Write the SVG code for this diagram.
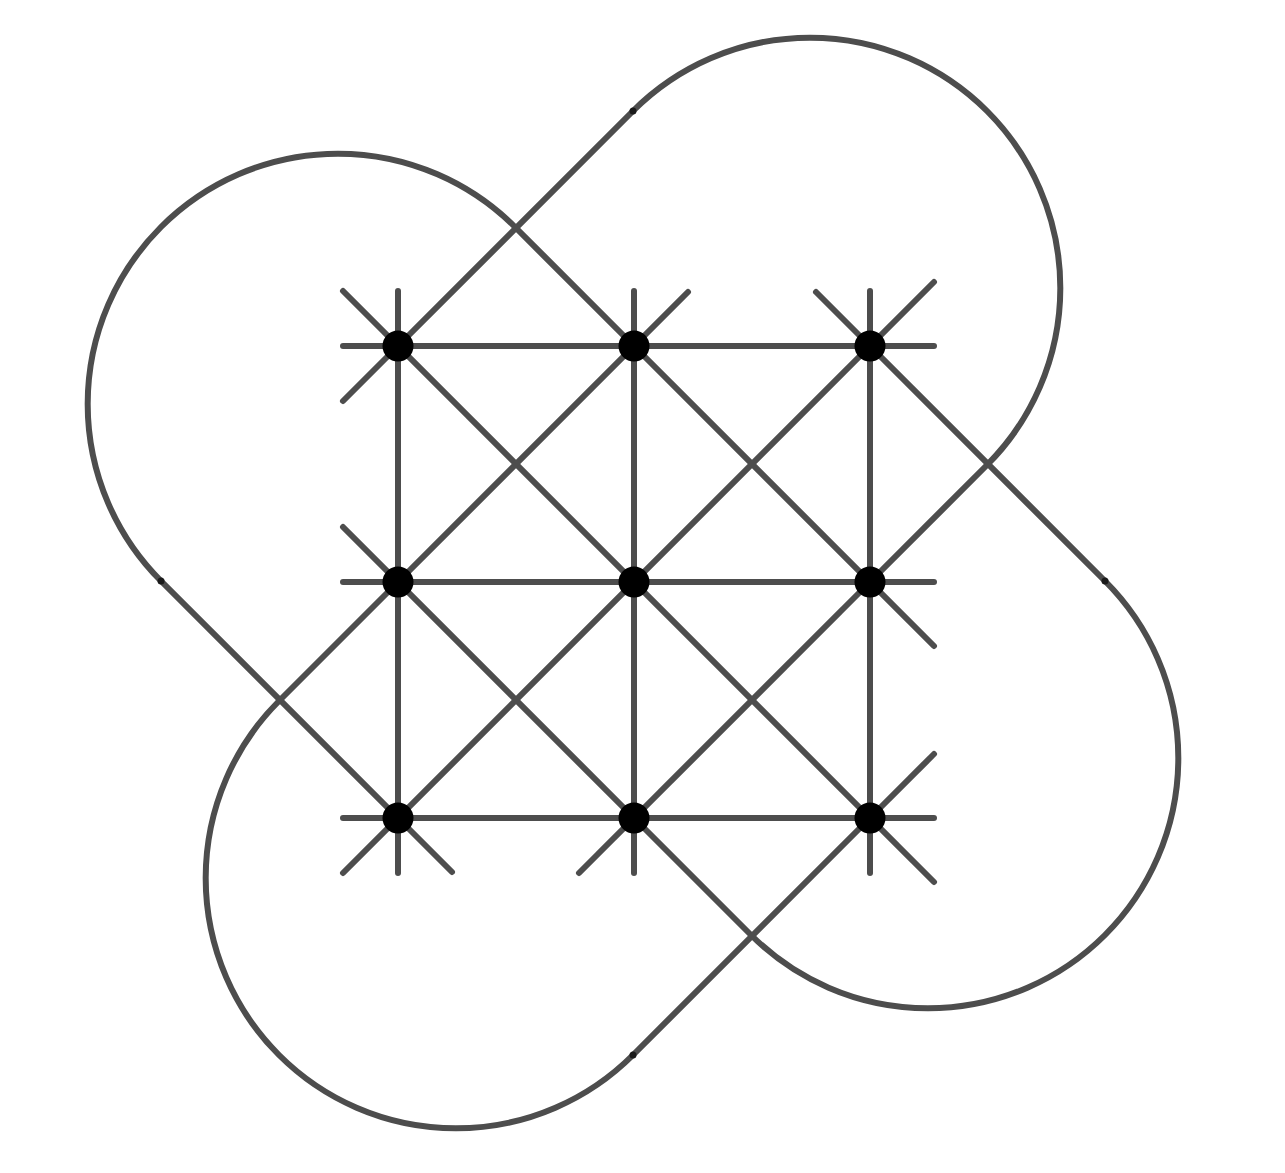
<svg xmlns="http://www.w3.org/2000/svg" width="1285" height="1173" viewBox="0 0 1285 1173">
<style>
.e{stroke:#4d4d4d;stroke-width:6;stroke-linecap:round;fill:none}
.n{fill:#000}
.j{fill:#1a1a1a}
</style>
<rect width="1285" height="1173" fill="#fff"/>
<g id="connectors">
<line class="e" x1="343" y1="346" x2="934" y2="346"/>
<line class="e" x1="343" y1="582" x2="934" y2="582"/>
<line class="e" x1="343" y1="818" x2="934" y2="818"/>
<line class="e" x1="398" y1="291" x2="398" y2="873"/>
<line class="e" x1="634" y1="291" x2="634" y2="873"/>
<line class="e" x1="870" y1="291" x2="870" y2="873"/>
<line class="e" x1="343" y1="291" x2="934" y2="882"/>
<line class="e" x1="634" y1="346" x2="934" y2="646"/>
<line class="e" x1="343" y1="527" x2="634" y2="818"/>
<line class="e" x1="816" y1="292" x2="870" y2="346"/>
<line class="e" x1="398" y1="818" x2="452" y2="872"/>
<line class="e" x1="343" y1="401" x2="398" y2="346"/>
<line class="e" x1="688" y1="292" x2="398" y2="582"/>
<line class="e" x1="934" y1="282" x2="343" y2="873"/>
<line class="e" x1="870" y1="582" x2="579" y2="873"/>
<line class="e" x1="934" y1="754" x2="870" y2="818"/>
<path class="e" d="M398 818 L161 581 A250.3 250.3 0 0 1 515 227 L634 346"/>
<path class="e" d="M398 346 L633 111 A250.3 250.3 0 0 1 987 465 L870 582"/>
<path class="e" d="M870 346 L1105 581 A250.3 250.3 0 0 1 751 935 L634 818"/>
<path class="e" d="M398 582 L279 701 A250.3 250.3 0 0 0 633 1055 L870 818"/>
</g>
<g id="j1"><circle class="j" cx="633" cy="111" r="3.5"/></g>
<g id="j2"><circle class="j" cx="161" cy="581" r="3.5"/></g>
<g id="j3"><circle class="j" cx="1105" cy="581" r="3.5"/></g>
<g id="j4"><circle class="j" cx="633" cy="1055" r="3.5"/></g>
<g id="n11"><circle class="n" cx="398" cy="346" r="15.5"/></g>
<g id="n12"><circle class="n" cx="634" cy="346" r="15.5"/></g>
<g id="n13"><circle class="n" cx="870" cy="346" r="15.5"/></g>
<g id="n21"><circle class="n" cx="398" cy="582" r="15.5"/></g>
<g id="n22"><circle class="n" cx="634" cy="582" r="15.5"/></g>
<g id="n23"><circle class="n" cx="870" cy="582" r="15.5"/></g>
<g id="n31"><circle class="n" cx="398" cy="818" r="15.5"/></g>
<g id="n32"><circle class="n" cx="634" cy="818" r="15.5"/></g>
<g id="n33"><circle class="n" cx="870" cy="818" r="15.5"/></g>
</svg>
